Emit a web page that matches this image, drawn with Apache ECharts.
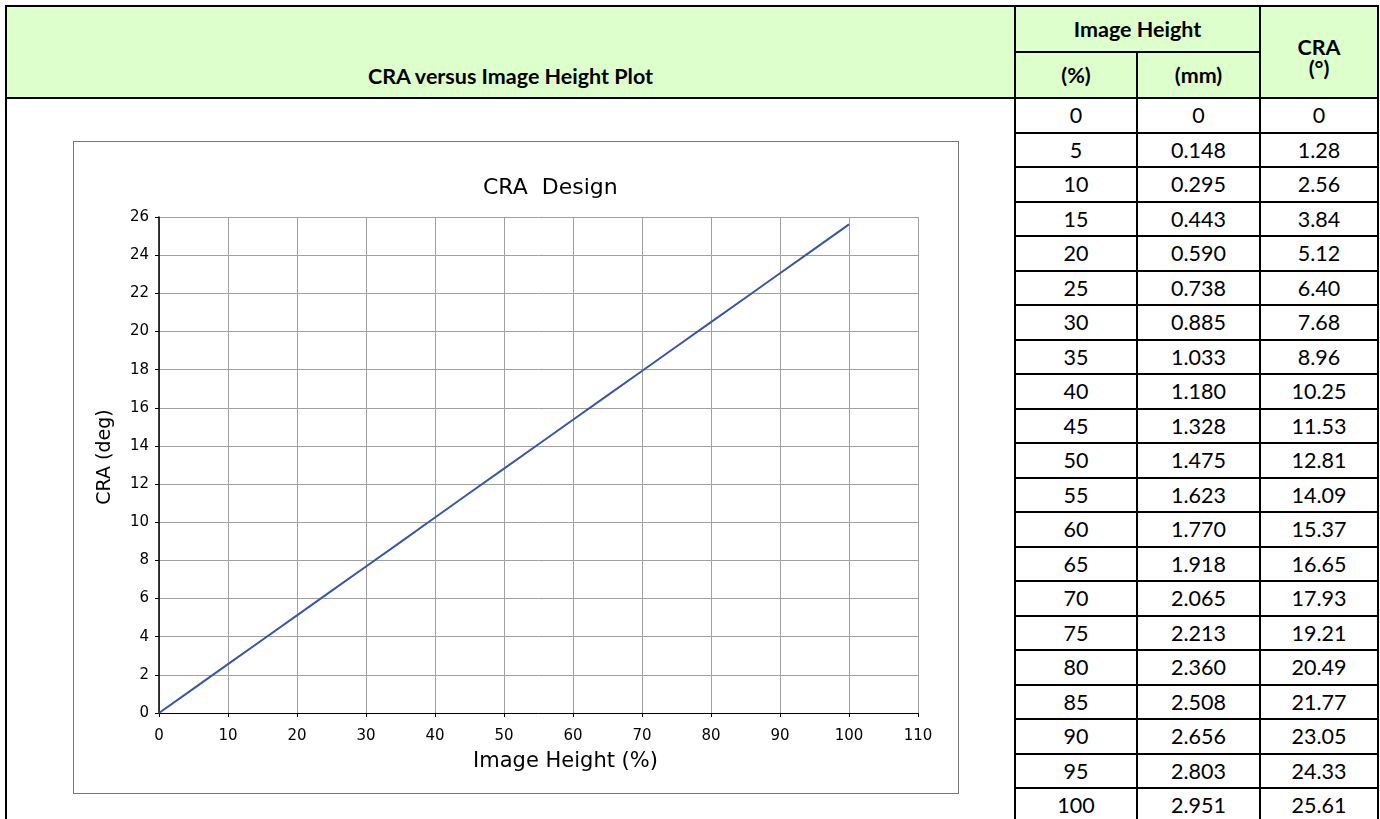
<!DOCTYPE html>
<html>
<head>
<meta charset="utf-8">
<script src="https://cdn.jsdelivr.net/npm/echarts@6/dist/echarts.min.js"></script>
<style>
  html, body { margin: 0; padding: 0; background: #fff; width: 1380px; height: 819px; overflow: hidden; }
  .sheet {
    position: absolute; left: 5px; top: 5px;
    border-collapse: collapse; table-layout: fixed;
    font-family: Lato, "Open Sans", sans-serif; font-size: 21.5px; color: #000;
  }
  .sheet td { border: 2px solid #000; padding: 0; text-align: center; vertical-align: middle; }
  .sheet tr.h td { background: #ddffcc; font-weight: bold; font-size: 21.5px; height: 44px; }
  .sheet tr.r td { height: 32.5px; }
  .sheet td.plot-head { vertical-align: bottom; padding-bottom: 8px; }
  .sheet td.plot-body { background: #fff; }
  .sheet td.cra { line-height: 21px; padding-top: 12px; }
  #chart {
    position: absolute; left: 73px; top: 141px; width: 886px; height: 653px;
    border: 1px solid #777; box-sizing: border-box; background: #fff;
  }
</style>
</head>
<body>
<table class="sheet" id="sheet">
  <colgroup>
    <col style="width:1009px"><col style="width:122px"><col style="width:123px"><col style="width:118px">
  </colgroup>
  <tbody id="tb">
    <tr class="h">
      <td rowspan="2" class="plot-head">CRA versus Image Height Plot</td>
      <td colspan="2">Image Height</td>
      <td rowspan="2" class="cra">CRA<br>(°)</td>
    </tr>
    <tr class="h"><td>(%)</td><td>(mm)</td></tr>
  </tbody>
</table>
<div id="chart"></div>
<script>
// table + plot data
const heightPct = [0, 5, 10, 15, 20, 25, 30, 35, 40, 45, 50, 55, 60, 65, 70, 75, 80, 85, 90, 95, 100]
const heightMm = ['0', '0.148', '0.295', '0.443', '0.590', '0.738', '0.885', '1.033', '1.180', '1.328', '1.475',
  '1.623', '1.770', '1.918', '2.065', '2.213', '2.360', '2.508', '2.656', '2.803', '2.951']
const craDeg = ['0', '1.28', '2.56', '3.84', '5.12', '6.40', '7.68', '8.96', '10.25', '11.53', '12.81',
  '14.09', '15.37', '16.65', '17.93', '19.21', '20.49', '21.77', '23.05', '24.33', '25.61']

const tb = document.getElementById('tb')
heightPct.forEach((p, i) => {
  const tr = document.createElement('tr')
  tr.className = 'r'
  if (i === 0) {
    const left = document.createElement('td')
    left.rowSpan = heightPct.length
    left.className = 'plot-body'
    tr.appendChild(left)
  }
  ;[String(p), heightMm[i], craDeg[i]].forEach((t) => {
    const td = document.createElement('td')
    td.textContent = t
    tr.appendChild(td)
  })
  tb.appendChild(tr)
})

const chart = echarts.init(document.getElementById('chart'))
const font = '"DejaVu Sans", Verdana, sans-serif'

chart.setOption({
  animation: false,
  title: {
    text: 'CRA  Design',
    left: 404,
    top: 30,
    textStyle: { fontFamily: font, fontSize: 22, fontWeight: 'normal', color: '#000' }
  },
  grid: { left: 85, right: 40, top: 75, bottom: 80, outerBoundsMode: 'none', show: false },
  xAxis: {
    type: 'value',
    min: 0,
    max: 110,
    interval: 10,
    name: 'Image Height (%)',
    nameLocation: 'middle',
    nameGap: 38,
    nameTextStyle: { fontFamily: font, fontSize: 21, color: '#000', padding: [0, 0, 0, 54] },
    axisLine: { show: true, lineStyle: { color: '#000', width: 1 } },
    axisTick: { show: true, length: 4, lineStyle: { color: '#000' } },
    axisLabel: { fontFamily: font, fontSize: 15, color: '#000', margin: 16 },
    splitLine: { show: true, lineStyle: { color: '#a0a0a0', width: 1 } }
  },
  yAxis: {
    type: 'value',
    min: 0,
    max: 26,
    interval: 2,
    name: 'CRA (deg)',
    nameLocation: 'middle',
    nameGap: 44,
    nameTextStyle: { fontFamily: font, fontSize: 19, color: '#000', padding: [0, 0, 0, 16] },
    axisLine: { show: true, lineStyle: { color: '#000', width: 1.5 } },
    axisTick: { show: true, length: 4, lineStyle: { color: '#000' } },
    axisLabel: { fontFamily: font, fontSize: 15, color: '#000', margin: 10 },
    splitLine: { show: true, lineStyle: { color: '#a0a0a0', width: 1 } }
  },
  series: [
    {
      type: 'line',
      data: heightPct.map((p, i) => [p, Number(craDeg[i])]),
      showSymbol: false,
      symbol: 'none',
      lineStyle: { color: '#3a55a5', width: 2 }
    }
  ]
})
</script>
</body>
</html>
